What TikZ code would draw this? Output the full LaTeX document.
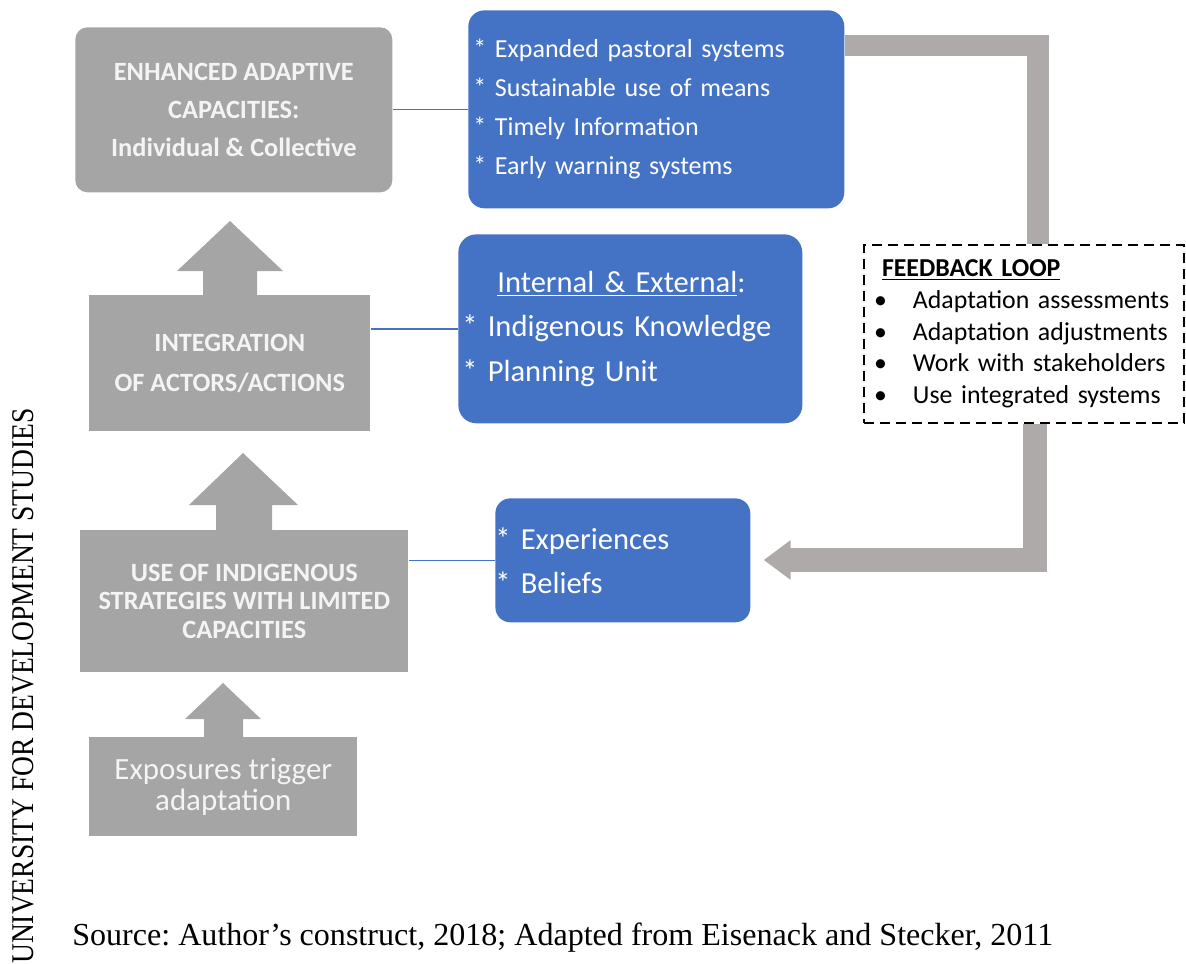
\documentclass[tikz,border=0pt]{standalone}
\usepackage{fontspec}
\setmainfont{Carlito}
\newfontfamily\timesfont{Liberation Serif}
\usepackage{graphicx}
\usepackage{tikz}
\usetikzlibrary{arrows.meta,positioning}
\definecolor{boxgray}{HTML}{A5A5A5}
\definecolor{bargray}{HTML}{AEAAAA}
\definecolor{officeblue}{HTML}{4472C4}
\definecolor{softwhite}{HTML}{F4F4F4}
\frenchspacing

\tikzset{
  graybox/.style={fill=boxgray, text=softwhite, align=center, inner sep=0pt, anchor=north west},
  bluebox/.style={fill=officeblue, text=white, align=left, anchor=north west},
  link/.style={draw=officeblue, line width=0.8pt},
  loopbar/.style={draw=bargray, line width=0.43cm},
}

\begin{document}
\begin{tikzpicture}[x=0.02cm, y=-0.02cm]
\useasboundingbox (0,0) rectangle (1186,963);

% left column
\node[graybox, rounded corners=0.24cm, minimum width=6.34cm, minimum height=3.3cm,
  font=\fontsize{15}{21.6}\selectfont\bfseries] (enh) at (75,27)
  {ENHANCED ADAPTIVE\\CAPACITIES:\\Individual \& Collective};
\node[graybox, minimum width=5.62cm, minimum height=2.72cm,
  font=\fontsize{15}{22.8}\selectfont\bfseries] (integ) at (89,295)
  {INTEGRATION\\OF ACTORS/ACTIONS};
\node[graybox, minimum width=6.56cm, minimum height=2.84cm,
  font=\fontsize{15}{16}\selectfont\bfseries] (indig) at (80,530)
  {USE OF INDIGENOUS\\STRATEGIES WITH LIMITED\\CAPACITIES};
\node[graybox, minimum width=5.36cm, minimum height=1.98cm,
  font=\fontsize{17.6}{18.2}\selectfont] (expo) at (89,737)
  {Exposures trigger\\adaptation};

% block arrows
\fill[boxgray] (203,296) -- (203,271) -- (177,271) -- (230,221) -- (283,271) -- (257,271) -- (257,296) -- cycle;
\fill[boxgray] (216,531) -- (216,505) -- (189,505) -- (243,453) -- (298,505) -- (272,505) -- (272,531) -- cycle;
\fill[boxgray] (204,738) -- (204,719) -- (185,719) -- (223,683) -- (261,719) -- (243,719) -- (243,738) -- cycle;

% blue lists
\node[bluebox, rounded corners=0.32cm, minimum height=3.96cm, inner xsep=0.1cm, text width=7.32cm,
  font=\fontsize{14.8}{22.2}\selectfont] (enhlist) at (468,10)
  {{*} Expanded pastoral systems\\{*} Sustainable use of means\\{*} Timely Information\\{*} Early warning systems};
\node[bluebox, rounded corners=0.36cm, minimum height=3.78cm, inner xsep=0.08cm, text width=6.72cm,
  font=\fontsize{17.4}{25.3}\selectfont] (integlist) at (458,234)
  {\hspace*{0.7cm}\underline{Internal \& External}:\\{*} Indigenous Knowledge\\{*} Planning Unit};
\node[bluebox, rounded corners=0.3cm, minimum height=2.48cm, inner xsep=0pt, text width=5.1cm,
  font=\fontsize{17.4}{25}\selectfont] (indiglist) at (495,498)
  {{*} Experiences\\{*} Beliefs};

\draw[link] (enhlist.west -| enh.east) -- (enhlist.west);
\draw[link] (integlist.west -| integ.east) -- (integlist.west);
\draw[link] (indiglist.west -| indig.east) -- (indiglist.west);

% feedback loop
\node[draw, line width=0.04cm, dash pattern=on 0.2cm off 0.12cm, anchor=north west,
  minimum width=6.4cm, minimum height=3.56cm, inner xsep=0.2cm, text width=6.0cm, align=left,
  font=\fontsize{14.7}{18}\selectfont] (loop) at (863,244)
  {\hspace*{0.16cm}\underline{\textbf{FEEDBACK LOOP}}\\
   \makebox[0.78cm][l]{\textbullet}Adaptation assessments\\
   \makebox[0.78cm][l]{\textbullet}Adaptation adjustments\\
   \makebox[0.78cm][l]{\textbullet}Work with stakeholders\\
   \makebox[0.78cm][l]{\textbullet}Use integrated systems};

\coordinate (looptop) at (1038,45.5);
\coordinate (loopturn) at (1035,560);
\draw[loopbar] (looptop -| enhlist.east) -- (looptop) -- (looptop |- loop.north);
\draw[loopbar, line width=0.48cm, -{Triangle[length=0.54cm,width=0.76cm]}, shorten >=0.26cm]
  (loop.south -| loopturn) -- (loopturn) -- (loopturn -| indiglist.east);

% margin and source
\node[rotate=90, anchor=base, inner sep=0pt, font=\timesfont\fontsize{18}{18}\selectfont] (uds) at (33,686)
  {\scalebox{0.87}[1]{UNIVERSITY FOR DEVELOPMENT STUDIES}};
\node[anchor=base west, inner sep=0pt, font=\timesfont\fontsize{18.25}{20}\selectfont] (src) at (72,945)
  {Source: Author’s construct, 2018; Adapted from Eisenack and Stecker, 2011};
\end{tikzpicture}
\end{document}
